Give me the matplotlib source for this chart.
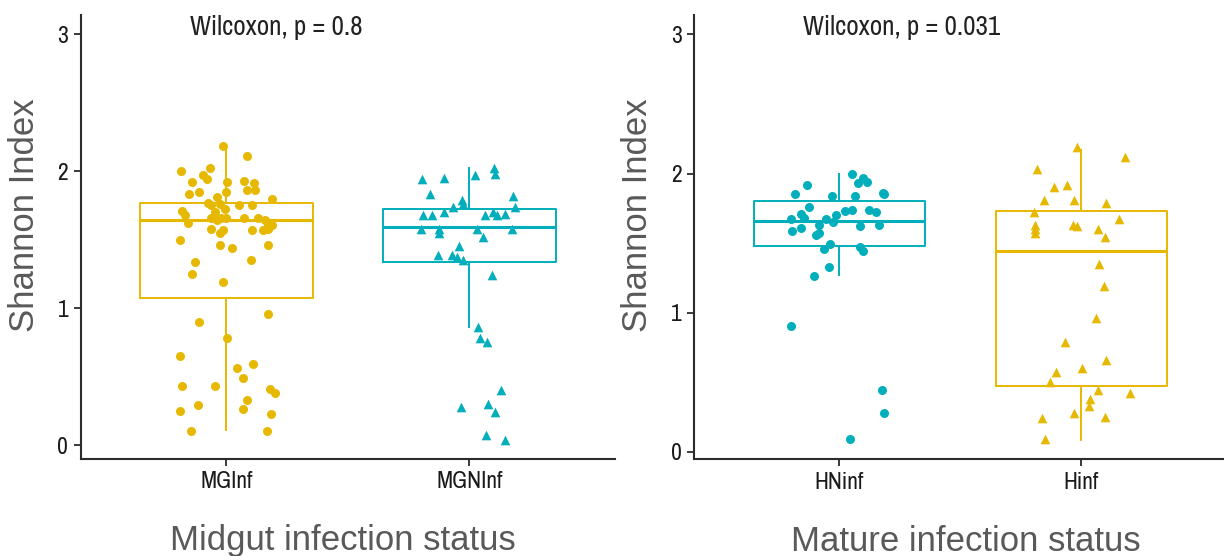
import numpy as np
import matplotlib
matplotlib.use("Agg")
import matplotlib.pyplot as plt
from matplotlib import font_manager

# kolory (ggpubr)
GOLD = "#E7B800"
TEAL = "#00AFBB"

# ---- panel lewy: Midgut ----
mg_groups = ["MGInf", "MGNInf"]
mg_p = "Wilcoxon, p = 0.8"

# statystyki pudełek: whislo, q1, med, q3, whishi
mg_whislo = [0.11, 0.86]
mg_q1 = [1.07, 1.34]
mg_med = [1.64, 1.59]
mg_q3 = [1.77, 1.72]
mg_whishi = [2.18, 2.02]

# punkty MGInf (jitter x, wartość)
mginf_dx = [-0.014, 0.085, -0.188, -0.069, -0.096, -0.082, -0.141, -0.112, -0.155, 0.004,
            0.073, 0.114, 0.086, 0.119, 0.188, -0.004, -0.041, -0.078, -0.062, -0.028,
            -0.007, -0.048, 0.051, 0.103, -0.185, -0.172, -0.160, -0.062, -0.041, -0.021,
            0.0, 0.073, 0.128, 0.158, 0.171, 0.188, 0.169, 0.151, -0.062, -0.028,
            -0.014, 0.106, -0.192, -0.028, 0.023, 0.169, -0.128, 0.099, -0.141, -0.014,
            0.169, -0.111, 0.003, -0.192, 0.110, 0.045, 0.066, -0.181, -0.048, 0.178,
            0.199, 0.085, -0.117, 0.066, -0.192, 0.182, -0.148, 0.167]
mginf_y = [2.18, 2.11, 2.00, 2.02, 1.97, 1.94, 1.92, 1.85, 1.83, 1.92,
           1.93, 1.91, 1.86, 1.86, 1.80, 1.85, 1.81, 1.77, 1.75, 1.76,
           1.72, 1.70, 1.75, 1.75, 1.71, 1.68, 1.62, 1.66, 1.64, 1.66,
           1.66, 1.66, 1.66, 1.64, 1.61, 1.61, 1.58, 1.57, 1.58, 1.55,
           1.57, 1.57, 1.50, 1.46, 1.44, 1.46, 1.34, 1.35, 1.25, 1.19,
           0.96, 0.90, 0.78, 0.65, 0.59, 0.56, 0.49, 0.43, 0.43, 0.41,
           0.38, 0.33, 0.29, 0.26, 0.25, 0.23, 0.10, 0.10]

# punkty MGNInf
mgninf_dx = [-0.195, -0.104, -0.163, 0.022, 0.101, 0.104, 0.180, 0.187, -0.029, -0.026,
             -0.067, -0.104, -0.191, -0.156, 0.063, 0.097, 0.115, 0.148, -0.198, -0.126,
             -0.126, 0.029, 0.056, 0.176, -0.044, -0.129, -0.074, -0.053, -0.026, 0.093,
             0.033, 0.042, 0.073, 0.128, -0.033, 0.077, 0.104, 0.067, 0.148]
mgninf_y = [1.94, 1.95, 1.83, 1.97, 2.02, 1.98, 1.82, 1.74, 1.79, 1.76,
            1.74, 1.70, 1.68, 1.68, 1.68, 1.70, 1.68, 1.69, 1.58, 1.58,
            1.55, 1.58, 1.52, 1.58, 1.45, 1.39, 1.39, 1.37, 1.35, 1.24,
            0.86, 0.78, 0.75, 0.40, 0.28, 0.30, 0.24, 0.07, 0.04]

# ---- panel prawy: Mature ----
h_groups = ["HNinf", "Hinf"]
h_p = "Wilcoxon, p = 0.031"

h_whislo = [1.27, 0.084]
h_q1 = [1.48, 0.47]
h_med = [1.66, 1.445]
h_q3 = [1.80, 1.73]
h_whishi = [2.00, 2.17]

hninf_dx = [0.051, 0.076, 0.096, 0.113, -0.134, -0.183, -0.032, 0.066, 0.179, 0.182,
            -0.124, 0.051, 0.124, 0.152, 0.021, -0.014, -0.158, -0.145, -0.200, -0.055,
            -0.028, -0.083, -0.196, -0.158, -0.099, -0.085, 0.083, 0.165, -0.062, -0.041,
            0.085, 0.096, -0.045, -0.107, -0.200, 0.176, 0.182, 0.044]
hninf_y = [2.00, 1.93, 1.97, 1.94, 1.92, 1.85, 1.84, 1.84, 1.86, 1.85,
           1.76, 1.74, 1.74, 1.72, 1.73, 1.70, 1.71, 1.68, 1.67, 1.67,
           1.65, 1.63, 1.59, 1.61, 1.56, 1.57, 1.62, 1.63, 1.46, 1.49,
           1.47, 1.44, 1.33, 1.26, 0.90, 0.44, 0.28, 0.09]

hinf_dx = [-0.019, 0.180, -0.183, -0.112, -0.061, -0.156, -0.029, 0.102, -0.197, -0.191,
           -0.191, -0.191, -0.036, -0.019, 0.067, 0.098, 0.153, 0.074, 0.092, 0.061,
           -0.070, 0.102, 0.001, -0.105, -0.129, 0.067, 0.202, 0.037, 0.033, -0.032,
           0.098, -0.162, -0.150]
hinf_y = [2.19, 2.12, 2.03, 1.90, 1.92, 1.81, 1.81, 1.79, 1.72, 1.63,
          1.60, 1.57, 1.63, 1.62, 1.60, 1.54, 1.67, 1.35, 1.19, 0.96,
          0.79, 0.66, 0.60, 0.57, 0.50, 0.44, 0.42, 0.38, 0.33, 0.28,
          0.25, 0.24, 0.09]

# wąska czcionka (jeśli jest) dla ticków i tekstu testu
narrow_names = sorted({f.name for f in font_manager.fontManager.ttflist if "Narrow" in f.name
                       or "Condensed" in f.name})
NARROW = narrow_names[:1] + ["Liberation Sans", "DejaVu Sans"]
LABEL = ["Liberation Sans", "DejaVu Sans"]
AXCOL = "#2b2b2b"


def box_stats(lo, q1, med, q3, hi):
    return [dict(whislo=a, q1=b, med=c, q3=d, whishi=e, fliers=[])
            for a, b, c, d, e in zip(lo, q1, med, q3, hi)]


def panel(ax, groups, stats, colors, pts, p_text, xlabel, ylim):
    for st, col, pos in zip(stats, colors, [1, 2]):
        ax.bxp([st], positions=[pos], widths=0.71, showcaps=False,
               boxprops=dict(color=col, lw=1.4),
               whiskerprops=dict(color=col, lw=1.4),
               medianprops=dict(color=col, lw=2.2),
               manage_ticks=False, zorder=2)
    for (dx, y, col, mk, sz), pos in zip(pts, [1, 2]):
        ax.scatter(pos + np.array(dx), y, color=col, marker=mk, s=sz,
                   linewidths=0, zorder=3)
    ax.set_xlim(0.4, 2.6)
    ax.set_ylim(*ylim)
    ax.set_xticks([1, 2])
    ax.set_xticklabels(groups, family=NARROW, fontstretch="condensed",
                       fontsize=17, color="#1a1a1a")
    ax.set_yticks([0, 1, 2, 3])
    ax.set_yticklabels(["0", "1", "2", "3"], family=NARROW, fontstretch="condensed",
                       fontsize=17, color="#1a1a1a")
    for s in ["top", "right"]:
        ax.spines[s].set_visible(False)
    for s in ["left", "bottom"]:
        ax.spines[s].set_color(AXCOL)
        ax.spines[s].set_linewidth(1.5)
    ax.tick_params(color=AXCOL, width=1.3, length=5, pad=4)
    ax.set_ylabel("Shannon Index", family=LABEL, fontsize=25, color="#595959")
    ax.yaxis.set_label_coords(-0.075, 0.55)
    ax.set_xlabel(xlabel, family=LABEL, fontsize=25, color="#595959")
    ax.xaxis.set_label_coords(0.49, -0.147)
    ax.text(0.85, 3.05, p_text, family=NARROW, fontstretch="condensed", fontsize=19.5,
            color="#222222", ha="left", va="center")


fig = plt.figure(figsize=(12.24, 5.56), dpi=100)
ax1 = fig.add_axes([0.0659, 0.1745, 0.4368, 0.7985])
ax2 = fig.add_axes([0.5672, 0.1740, 0.4350, 0.7990])

panel(ax1, mg_groups, box_stats(mg_whislo, mg_q1, mg_med, mg_q3, mg_whishi),
      [GOLD, TEAL],
      [(mginf_dx, mginf_y, GOLD, "o", 42), (mgninf_dx, mgninf_y, TEAL, "^", 48)],
      mg_p, "Midgut infection status", (-0.102, 3.14))
panel(ax2, h_groups, box_stats(h_whislo, h_q1, h_med, h_q3, h_whishi),
      [TEAL, GOLD],
      [(hninf_dx, hninf_y, TEAL, "o", 42), (hinf_dx, hinf_y, GOLD, "^", 48)],
      h_p, "Mature infection status", (-0.055, 3.14))
ax2.xaxis.set_label_coords(0.51, -0.147)

fig.savefig("out.png", dpi=100)
